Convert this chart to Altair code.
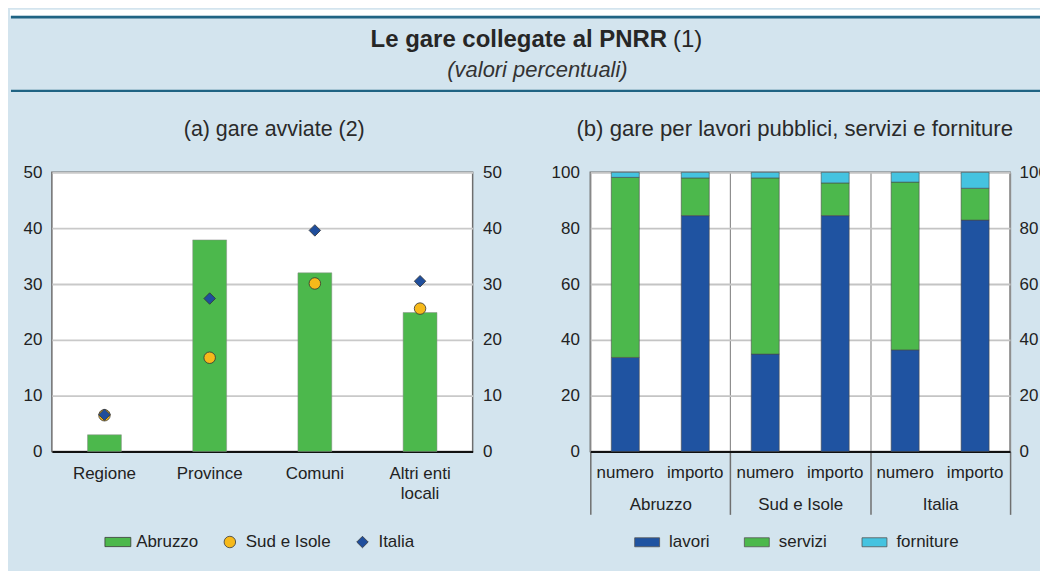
import altair as alt
import pandas as pd

BG = "#d3e4ee"
FONT = "Liberation Sans"
TXT = "#222222"

# ---------------- data: panel (a) ----------------
enti = ["Regione", "Province", "Comuni", "Altri enti locali"]
abruzzo = [3.0, 37.9, 32.0, 24.9]
sud_isole = [6.5, 16.8, 30.1, 25.6]
italia = [6.6, 27.4, 39.6, 30.5]
serie_a = ["Abruzzo", "Sud e Isole", "Italia"]
colori_a = ["#4cb84c", "#f6b91a", "#1f4e9c"]
ticks_a = [0, 10, 20, 30, 40, 50]

# ---------------- data: panel (b) ----------------
aree = ["Abruzzo", "Sud e Isole", "Italia"]
misure = ["numero", "importo"]
tipi = ["lavori", "servizi", "forniture"]
colori_b = ["#1f53a1", "#4cb84c", "#45c3e0"]
# order: Abruzzo numero, Abruzzo importo, Sud numero, Sud importo, Italia numero, Italia importo
lavori = [33.7, 84.5, 34.9, 84.5, 36.4, 82.9]
servizi = [64.5, 13.5, 63.1, 11.7, 60.1, 11.4]
forniture = [1.8, 2.0, 2.0, 3.8, 3.5, 5.7]
ticks_b = [0, 20, 40, 60, 80, 100]

# ---------------- texts ----------------
titolo = "Le gare collegate al PNRR"
nota_titolo = "(1)"
sottotitolo = "(valori percentuali)"
titolo_a = "(a) gare avviate (2)"
titolo_b = "(b) gare per lavori pubblici, servizi e forniture"

# ---------------- frames ----------------
df_bar = pd.DataFrame({"ente": enti, "serie": "Abruzzo", "valore": abruzzo})
df_pts = pd.DataFrame({
    "ente": enti + enti,
    "serie": ["Sud e Isole"] * len(enti) + ["Italia"] * len(enti),
    "valore": sud_isole + italia,
})
rows = []
k = 0
for a in aree:
    for m in misure:
        for t, vals, o in zip(tipi, [lavori, servizi, forniture], [0, 1, 2]):
            rows.append({"area": a, "misura": m, "tipo": t, "valore": vals[k], "ordine": o})
        k += 1
df_b = pd.DataFrame(rows)
df_lbl = df_b[df_b["tipo"] == "lavori"][["area", "misura"]]
one = pd.DataFrame({"k": [0]})

W_A, W_B, H = 422, 421, 280

lab = dict(labelFont=FONT, labelFontSize=17, labelColor=TXT)

# ---------------- panel (a) ----------------
x_a = alt.X(
    "ente:N", sort=enti, title=None,
    scale=alt.Scale(paddingInner=0.678, paddingOuter=0.339),
    axis=alt.Axis(labelAngle=0, ticks=False, domainColor="#111111", domainWidth=2,
                  labelPadding=27, labelBaseline="alphabetic", labelLineHeight=20,
                  labelExpr="datum.value == 'Altri enti locali' ? ['Altri enti', 'locali'] : datum.label",
                  grid=False, **lab),
)
sc_a = alt.Scale(domain=[0, 50], nice=False)
RECT_A = "M-2.65,-0.8H1.85V0.8H-2.65Z"
leg_a = alt.Legend(orient="none", legendX=60, legendY=362, direction="horizontal", title=None,
                   symbolSize=133, symbolStrokeColor="#3a3a3a", symbolStrokeWidth=0.8,
                   labelOffset=7.5, columnPadding=23, padding=0, labelFontWeight="normal", **lab)
col_a = alt.Color("serie:N", scale=alt.Scale(domain=serie_a, range=colori_a), legend=leg_a)
shp_a = alt.Shape("serie:N", scale=alt.Scale(domain=serie_a, range=[RECT_A, "circle", "diamond"]), legend=leg_a)

bars_a = alt.Chart(df_bar).mark_bar(stroke="#8a8a8a", strokeWidth=0.5).encode(
    x=x_a,
    y=alt.Y("valore:Q", scale=sc_a, title=None,
            axis=alt.Axis(orient="left", values=ticks_a, ticks=False, domain=False, grid=True,
                          gridColor="#c9c9c9", gridWidth=1.8, labelPadding=10, **lab)),
    color=col_a,
)
pts_a = alt.Chart(df_pts).mark_point(filled=True, size=133, opacity=1, stroke="#333333", strokeWidth=0.8).encode(
    x=x_a,
    y=alt.Y("valore:Q", scale=sc_a, title=None,
            axis=alt.Axis(orient="right", values=ticks_a, ticks=False, domain=False, grid=False,
                          labelPadding=10, **lab)),
    color=col_a,
    shape=shp_a,
)

# header decorations (drawn in panel (a) coordinates, outside its plot area)
strip = alt.Chart(one).mark_rect(fill="white").encode(
    x=alt.value(-42), x2=alt.value(998), y=alt.value(-163), y2=alt.value(-157))
bottom = alt.Chart(one).mark_rect(fill=BG).encode(
    x=alt.value(-42), x2=alt.value(998), y=alt.value(384), y2=alt.value(398))
line1 = alt.Chart(one).mark_rule(color="#1f6383", strokeWidth=2.6).encode(
    x=alt.value(-41), x2=alt.value(998), y=alt.value(-155.7))
line2 = alt.Chart(one).mark_rule(color="#1f6383", strokeWidth=2.2).encode(
    x=alt.value(-41), x2=alt.value(998), y=alt.value(-81.7))
t_main = alt.Chart(one).mark_text(font=FONT, fontSize=24, fontWeight="bold", align="right",
                                  baseline="alphabetic", color="#262626").encode(
    x=alt.value(617), y=alt.value(-125.3), text=alt.value(titolo))
t_note = alt.Chart(one).mark_text(font=FONT, fontSize=24, align="left",
                                  baseline="alphabetic", color="#262626").encode(
    x=alt.value(623), y=alt.value(-125.3), text=alt.value(nota_titolo))
t_sub = alt.Chart(one).mark_text(font=FONT, fontSize=22, fontStyle="italic", align="center",
                                 baseline="alphabetic", color="#333333").encode(
    x=alt.value(487), y=alt.value(-96), text=alt.value(sottotitolo))
t_a = alt.Chart(one).mark_text(font=FONT, fontSize=21.5, align="center",
                               baseline="alphabetic", color="#2a2a2a").encode(
    x=alt.value(223), y=alt.value(-36), text=alt.value(titolo_a))

left = alt.layer(strip, bottom, line1, line2, t_main, t_note, t_sub, t_a, bars_a, pts_a).resolve_axis(
    y="independent").properties(width=W_A, height=H)

# ---------------- panel (b) ----------------
x_b = alt.X(
    "area:N", sort=aree, title=None,
    scale=alt.Scale(paddingInner=0, paddingOuter=0),
    axis=alt.Axis(labelAngle=0, tickBand="extent", ticks=True, tickSize=63, tickColor="#6f6f6f",
                  tickWidth=1.5, grid=True, gridColor="#8f8f8f", gridWidth=1.2,
                  domainColor="#111111", domainWidth=2, labelPadding=-5,
                  labelBaseline="alphabetic", **lab),
)
xo_b = alt.XOffset("misura:N", sort=misure, scale=alt.Scale(paddingInner=0.6, paddingOuter=0.3))
sc_b = alt.Scale(domain=[0, 100], nice=False)
RECT_B = "M-1,-0.36H1V0.36H-1Z"
leg_b = alt.Legend(orient="none", legendX=44, legendY=358, direction="horizontal", title=None,
                   symbolType=RECT_B, symbolSize=625, symbolStrokeColor="#555555",
                   symbolStrokeWidth=0.8, labelOffset=9, columnPadding=32, padding=0, **lab)

bars_b = alt.Chart(df_b).mark_bar(stroke="#4a4a4a", strokeWidth=0.6).encode(
    x=x_b,
    xOffset=xo_b,
    y=alt.Y("valore:Q", stack="zero", scale=sc_b, title=None,
            axis=alt.Axis(orient="left", values=ticks_b, ticks=False, domain=False, grid=True,
                          gridColor="#c4c4c4", gridWidth=1.8, labelPadding=11, **lab)),
    color=alt.Color("tipo:N", scale=alt.Scale(domain=tipi, range=colori_b), legend=leg_b),
    order=alt.Order("ordine:Q", sort="ascending"),
)
axis_r = alt.Chart(pd.DataFrame({"v": [0, 100]})).mark_point(opacity=0).encode(
    x=alt.value(0),
    y=alt.Y("v:Q", scale=sc_b, title=None,
            axis=alt.Axis(orient="right", values=ticks_b, ticks=False, domain=False, grid=False,
                          labelPadding=9, **lab)),
)
lbl_b = alt.Chart(df_lbl).mark_text(font=FONT, fontSize=17, color=TXT, baseline="alphabetic").encode(
    x=x_b, xOffset=xo_b, y=alt.value(307), text="misura:N")
t_b = alt.Chart(one).mark_text(font=FONT, fontSize=22.2, align="center",
                               baseline="alphabetic", color="#2a2a2a").encode(
    x=alt.value(205), y=alt.value(-36), text=alt.value(titolo_b))

right = alt.layer(bars_b, lbl_b, axis_r, t_b).resolve_axis(y="independent").properties(width=W_B, height=H)

chart = alt.hconcat(left, right, spacing=118, bounds="flush").resolve_scale(
    color="independent", shape="independent", x="independent", y="independent", xOffset="independent"
).resolve_legend(color="independent", shape="independent").properties(
    background=BG, padding={"left": 0, "top": 0, "right": -10, "bottom": 0}
).configure_view(fill="white", stroke="#6e6e6e", strokeWidth=1.5)

chart.save("out.html", embed_options={"renderer": "svg", "actions": False})
